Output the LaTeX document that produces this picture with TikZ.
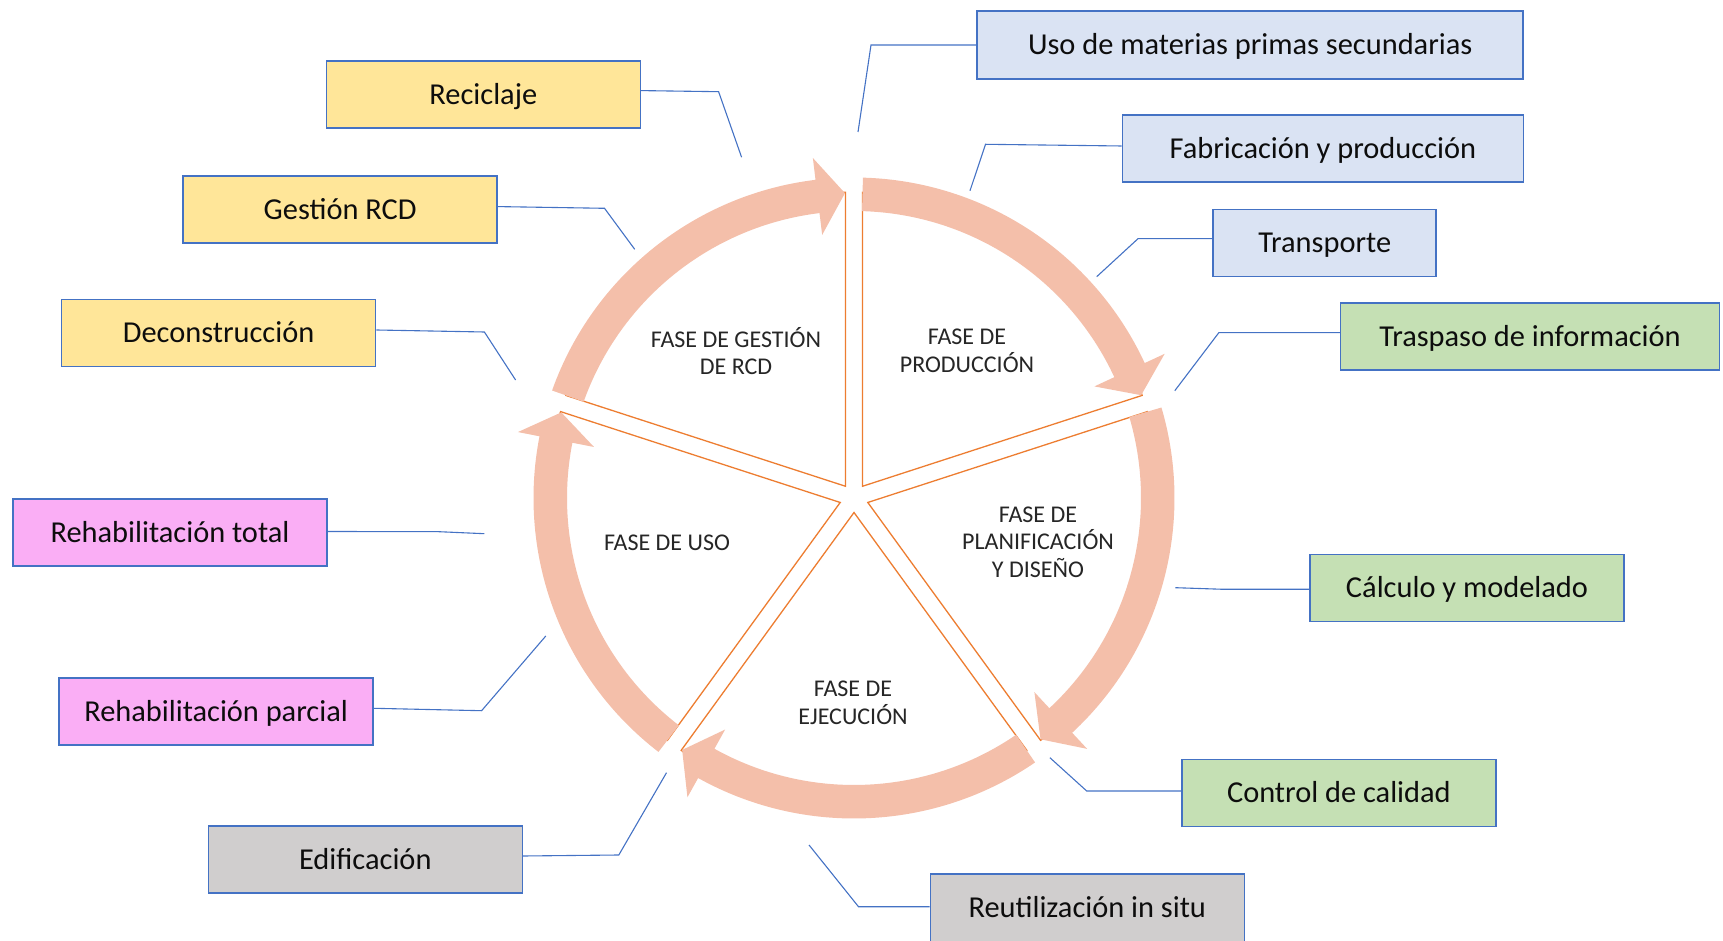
\documentclass[tikz,border=0pt]{standalone}
\usepackage{fontspec}
\setmainfont{Carlito}
\usetikzlibrary{calc}
\definecolor{band}{RGB}{244,191,170}
\definecolor{slicec}{RGB}{237,125,49}
\definecolor{bline}{RGB}{68,114,196}
\definecolor{fyel}{RGB}{255,230,153}
\definecolor{fblu}{RGB}{218,227,243}
\definecolor{fgrn}{RGB}{197,224,180}
\definecolor{fpnk}{RGB}{250,174,245}
\definecolor{fgry}{RGB}{208,206,206}
\definecolor{txt}{RGB}{13,13,13}
\definecolor{ptxt}{RGB}{38,38,38}
\begin{document}
\begin{tikzpicture}[x=1pt,y=1pt,
  box/.style={draw=bline, line width=1.5pt, minimum height=67pt, minimum width=314pt, inner sep=0pt, text height=19.5pt, text depth=0pt, font=\fontsize{30.4}{36}\selectfont, text=txt},
  conn/.style={draw=bline, line width=1.1pt},
  phase/.style={align=center, font=\fontsize{24}{27.5}\selectfont, text=ptxt, inner sep=0pt},
  sl/.style={draw=slicec, fill=white, line width=1.3pt, line join=miter},
  arr/.style={fill=band}]
\useasboundingbox (0,0) rectangle (1723,940);
\clip (0,0) rectangle (1723,940);
\coordinate (C) at (854,442);
% pie slices (exploded)
\foreach \b [evaluate=\b as \bs using \b-36, evaluate=\b as \be using \b+36] in {126,54,-18,-90,-162} {
  \draw[sl] ($(C)+(\b:14.5)$) -- ++(\bs:294) arc[start angle=\bs, end angle=\be, radius=294] -- cycle;
}
% circular arrows
\foreach \p [evaluate=\p as \s using \p-1.6, evaluate=\p as \hb using \p-65.1, evaluate=\p as \t using \p-70.3] in {162,90,18,-54,-126} {
  \fill[arr] ($(C)+(\s:320.5)$) arc[start angle=\s, end angle=\hb, radius=320.5]
    -- ($(C)+(\hb:342.5)$) -- ($(C)+(\t:305)$) -- ($(C)+(\hb:265)$) -- ($(C)+(\hb:287)$)
    arc[start angle=\hb, end angle=\s, radius=287] -- cycle;
}
% phase labels
\node[phase] (pg) at (736,589) {FASE DE GESTIÓN\\DE RCD};
\node[phase] (pp) at (967,589) {FASE DE\\PRODUCCIÓN};
\node[phase] (pl) at (1038,398) {FASE DE\\PLANIFICACIÓN\\Y DISEÑO};
\node[phase] (pe) at (853,237) {FASE DE\\EJECUCIÓN};
\node[phase] (pu) at (667,397) {FASE DE USO};
% boxes
\node[box, fill=fyel] (reci) at (483.3,845.4) {Reciclaje};
\node[box, fill=fyel] (gest) at (340.1,730.4) {Gestión RCD};
\node[box, fill=fyel] (deco) at (218.6,607) {Deconstrucción};
\node[box, fill=fpnk] (rtot) at (170,407.5) {Rehabilitación total};
\node[box, fill=fpnk] (rpar) at (216.1,228.7) {Rehabilitación parcial};
\node[box, fill=fgry] (edif) at (365.3,80.3) {Edificación};
\node[box, fill=fgry, minimum height=72pt, text depth=5pt] (reut) at (1087.3,29.8) {Reutilización in situ};
\node[box, fill=fgrn] (ctrl) at (1338.9,147) {Control de calidad};
\node[box, fill=fgrn] (calc) at (1467,352) {Cálculo y modelado};
\node[box, fill=fgrn, minimum width=379pt] (tras) at (1530,603.7) {Traspaso de información};
\node[box, fill=fblu, minimum width=223pt] (tran) at (1324.7,697) {Transporte};
\node[box, fill=fblu, minimum width=401pt] (fabr) at (1322.9,791.3) {Fabricación y producción};
\node[box, fill=fblu, minimum width=546pt, minimum height=68pt] (uso) at (1250.2,895) {Uso de materias primas secundarias};
% connector points
\coordinate (reciB) at (718.6,848.3); \coordinate (reciE) at (741.6,782.7);
\coordinate (gestB) at (604.5,731.7); \coordinate (gestE) at (634.7,690.7);
\coordinate (decoB) at (484.4,608);   \coordinate (decoE) at (515.6,560);
\coordinate (rtotB) at (438.8,408.3); \coordinate (rtotE) at (484.4,406.3);
\coordinate (rparB) at (481.6,229.3); \coordinate (rparE) at (545.8,304);
\coordinate (edifB) at (618.8,85);    \coordinate (edifE) at (666.5,167.3);
\coordinate (reutB) at (858.5,33.3);  \coordinate (reutE) at (809,95);
\coordinate (ctrlB) at (1086.7,149);  \coordinate (ctrlE) at (1049.9,182.3);
\coordinate (calcB) at (1223.2,350.7);\coordinate (calcE) at (1175.4,352.3);
\coordinate (trasB) at (1218.8,607.3);\coordinate (trasE) at (1174.8,549.3);
\coordinate (tranB) at (1138,701.3);  \coordinate (tranE) at (1096.7,663.3);
\coordinate (fabrB) at (985.5,795.7); \coordinate (fabrE) at (970,749.3);
\coordinate (usoB) at (871,895);      \coordinate (usoE) at (858,808);
\draw[conn] ([yshift=4pt]reci.east) -- (reciB) -- (reciE);
\draw[conn] ([yshift=3pt]gest.east) -- (gestB) -- (gestE);
\draw[conn] ([yshift=3pt]deco.east) -- (decoB) -- (decoE);
\draw[conn] ([yshift=1pt]rtot.east) -- (rtotB) -- (rtotE);
\draw[conn] ([yshift=3pt]rpar.east) -- (rparB) -- (rparE);
\draw[conn] ([yshift=3.7pt]edif.east) -- (edifB) -- (edifE);
\draw[conn] ([yshift=3.5pt]reut.west) -- (reutB) -- (reutE);
\draw[conn] ([yshift=2pt]ctrl.west) -- (ctrlB) -- (ctrlE);
\draw[conn] ([yshift=-1.3pt]calc.west) -- (calcB) -- (calcE);
\draw[conn] ([yshift=3.6pt]tras.west) -- (trasB) -- (trasE);
\draw[conn] ([yshift=4.3pt]tran.west) -- (tranB) -- (tranE);
\draw[conn] ([yshift=2.7pt]fabr.west) -- (fabrB) -- (fabrE);
\draw[conn] (uso.west) -- (usoB) -- (usoE);
\end{tikzpicture}
\end{document}
